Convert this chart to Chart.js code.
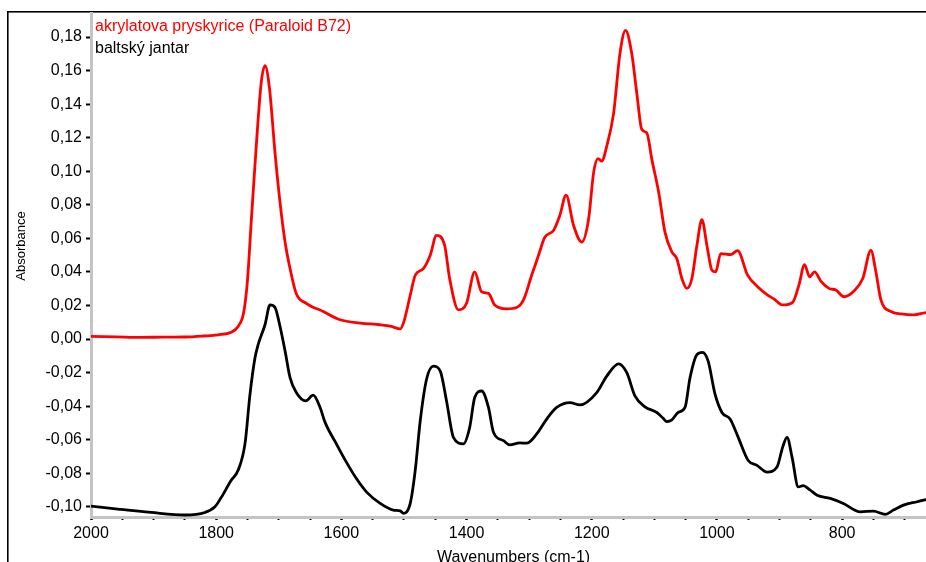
<!DOCTYPE html>
<html><head><meta charset="utf-8">
<script src="https://cdn.jsdelivr.net/npm/chart.js@4/dist/chart.umd.min.js"></script>
<style>
html,body{margin:0;padding:0;overflow:hidden;background:#fff;width:926px;height:562px;}
#wrap{position:relative;width:940px;height:562px;}
canvas{display:block;}
</style></head><body>
<div id="wrap"><canvas id="c" width="940" height="562"></canvas></div>
<script>
const seriesLabels = ['akrylatova pryskyrice (Paraloid B72)', 'baltský jantar'];
const seriesColors = ['#ff0000', '#000000'];

const redWavenumbers = [2000,1960,1920,1885,1850,1820,1797,1776,1765,1756,1750,1744,1736,1728,1722,1715,1706,1698,1690,1682,1672,1656,1629,1602,1570,1538,1520,1506,1500,1490,1482,1469,1458,1448,1435,1427,1413,1400,1387,1376,1365,1355,1336,1320,1309,1296,1285,1275,1261,1251,1241,1229,1216,1205,1197,1190,1184,1176,1165,1155,1146,1136,1128,1120,1112,1104,1093,1083,1072,1064,1056,1048,1040,1032,1024,1016,1008,1002,994,978,967,951,935,919,909,895,879,869,860,852,844,834,821,810,797,781,767,754,746,738,722,706,685,666,650];
const redAbsorbance = [0.0016,0.0013,0.0010,0.0011,0.0012,0.0018,0.0025,0.0041,0.0075,0.016,0.035,0.070,0.115,0.153,0.163,0.150,0.111,0.0815,0.058,0.042,0.027,0.0213,0.0164,0.0115,0.0095,0.0085,0.0075,0.0060,0.0105,0.026,0.038,0.042,0.050,0.0618,0.0558,0.036,0.0174,0.0213,0.040,0.0282,0.0272,0.0203,0.018,0.0188,0.0233,0.038,0.0499,0.0607,0.0647,0.0736,0.0858,0.0677,0.0578,0.0716,0.0992,0.1075,0.1061,0.115,0.1347,0.170,0.184,0.170,0.1465,0.1249,0.1229,0.1071,0.0874,0.0637,0.0519,0.0479,0.0361,0.0302,0.0361,0.0558,0.0712,0.0558,0.041,0.040,0.0509,0.0503,0.0527,0.0381,0.0312,0.0262,0.0239,0.0203,0.0219,0.0321,0.0444,0.0371,0.040,0.0345,0.0302,0.0292,0.0252,0.0286,0.0361,0.0529,0.040,0.0233,0.0164,0.015,0.0144,0.0158,0.016];

const blackWavenumbers = [2000,1957,1904,1850,1818,1802,1792,1776,1765,1754,1746,1738,1733,1722,1714,1706,1698,1690,1682,1672,1657,1645,1634,1626,1608,1592,1576,1560,1538,1517,1506,1501,1490,1482,1474,1464,1453,1442,1432,1421,1405,1395,1387,1376,1365,1357,1341,1331,1315,1304,1288,1272,1256,1235,1219,1192,1176,1157,1144,1131,1115,1096,1086,1080,1072,1062,1051,1043,1032,1023,1014,1003,992,979,966,950,936,920,904,895,888,880,870,862,852,840,819,798,771,750,731,718,702,680,666,650];
const blackAbsorbance = [-0.0996,-0.1014,-0.1034,-0.1049,-0.1034,-0.100,-0.0945,-0.0842,-0.0783,-0.0625,-0.033,-0.0112,-0.0034,0.0085,0.0203,0.0188,0.0075,-0.007,-0.023,-0.0319,-0.0369,-0.0335,-0.0408,-0.0497,-0.0625,-0.0734,-0.0832,-0.0911,-0.098,-0.102,-0.1024,-0.1039,-0.098,-0.0783,-0.0487,-0.0241,-0.0162,-0.0191,-0.0369,-0.0586,-0.0625,-0.0527,-0.0349,-0.031,-0.0408,-0.0556,-0.0606,-0.0631,-0.0619,-0.0621,-0.0566,-0.0477,-0.0408,-0.0379,-0.0393,-0.0319,-0.0221,-0.0148,-0.0201,-0.0339,-0.0404,-0.0438,-0.0472,-0.0492,-0.0482,-0.0438,-0.0408,-0.0231,-0.0093,-0.0079,-0.0132,-0.0329,-0.0438,-0.0477,-0.0586,-0.0724,-0.0753,-0.0793,-0.0763,-0.0645,-0.0586,-0.0704,-0.0882,-0.0874,-0.0898,-0.0931,-0.095,-0.098,-0.103,-0.1026,-0.1045,-0.102,-0.099,-0.097,-0.0957,-0.095];

const yTickValues = [0.18,0.16,0.14,0.12,0.10,0.08,0.06,0.04,0.02,0.00,-0.02,-0.04,-0.06,-0.08,-0.10];
const xMajorTicks = [2000,1800,1600,1400,1200,1000,800];
const xTickValues = [2000,1950,1900,1850,1800,1750,1700,1650,1600,1550,1500,1450,1400,1350,1300,1250,1200,1150,1100,1050,1000,950,900,850,800,750,700,650];
const xTitle = 'Wavenumbers (cm-1)';
const yTitle = 'Absorbance';

const FONT = '"Liberation Sans", Arial, sans-serif';

const toPoints = (xs, ys) => xs.map((x, i) => ({x: x, y: ys[i]}));

const decorPlugin = {
  id: 'decor',
  beforeDraw(chart) {
    const ctx = chart.ctx;
    ctx.save();
    ctx.fillStyle = '#000';
    ctx.fillRect(7, 11, 1.6, 562 - 11);
    ctx.fillRect(7, 11, 940, 1.6);
    ctx.restore();
  },
  afterDraw(chart) {
    const ctx = chart.ctx;
    const ca = chart.chartArea;
    ctx.save();
    ctx.font = '16px ' + FONT;
    ctx.textBaseline = 'alphabetic';
    ctx.textAlign = 'left';
    chart.data.datasets.forEach((ds, i) => {
      ctx.fillStyle = ds.borderColor;
      ctx.fillText(ds.label, 95, 31 + i * 21.5);
    });
    ctx.fillStyle = '#000';
    ctx.textAlign = 'center';
    ctx.fillText(xTitle, (ca.left + ca.right) / 2, 561.5);
    ctx.font = '13px ' + FONT;
    ctx.translate(25, 246);
    ctx.rotate(-Math.PI / 2);
    ctx.textAlign = 'center';
    ctx.textBaseline = 'alphabetic';
    ctx.fillText(yTitle, 0, 0);
    ctx.restore();
  }
};

new Chart(document.getElementById('c'), {
  type: 'line',
  data: {
    datasets: [
      {label: seriesLabels[0], data: toPoints(redWavenumbers, redAbsorbance), borderColor: seriesColors[0], borderWidth: 2.8, pointRadius: 0, cubicInterpolationMode: 'monotone', fill: false},
      {label: seriesLabels[1], data: toPoints(blackWavenumbers, blackAbsorbance), borderColor: seriesColors[1], borderWidth: 2.8, pointRadius: 0, cubicInterpolationMode: 'monotone', fill: false}
    ]
  },
  options: {
    responsive: false,
    animation: false,
    layout: {padding: {left: 0, top: 12, right: 4, bottom: 0}},
    plugins: {legend: {display: false}, tooltip: {enabled: false}},
    scales: {
      x: {
        type: 'linear',
        reverse: true,
        min: 650, max: 2000,
        afterBuildTicks: (axis) => { axis.ticks = xTickValues.map(v => ({value: v})); },
        afterFit: (scale) => { scale.height = 45; },
        border: {display: true, color: '#c4c4c4', width: 3},
        grid: {display: true, drawOnChartArea: false, drawTicks: true, tickLength: 3,
               tickColor: '#000', tickWidth: (c) => (c.tick && xMajorTicks.includes(c.tick.value)) ? 2.5 : 2},
        ticks: {autoSkip: false, maxRotation: 0, padding: 4, color: '#000',
                font: {family: FONT, size: 16},
                callback: (v) => xMajorTicks.includes(v) ? String(v) : ''}
      },
      y: {
        type: 'linear',
        min: -0.1061, max: 0.194,
        afterBuildTicks: (axis) => { axis.ticks = yTickValues.map(v => ({value: v})); },
        afterFit: (scale) => { scale.width = 91; },
        border: {display: true, color: '#c4c4c4', width: 3},
        grid: {display: true, drawOnChartArea: false, drawTicks: true, tickLength: 5, tickColor: '#000', tickWidth: 2},
        ticks: {padding: 4, color: '#000', font: {family: FONT, size: 16},
                callback: (v) => v.toFixed(2).replace('.', ',')}
      }
    }
  },
  plugins: [decorPlugin]
});
</script>
</body></html>
